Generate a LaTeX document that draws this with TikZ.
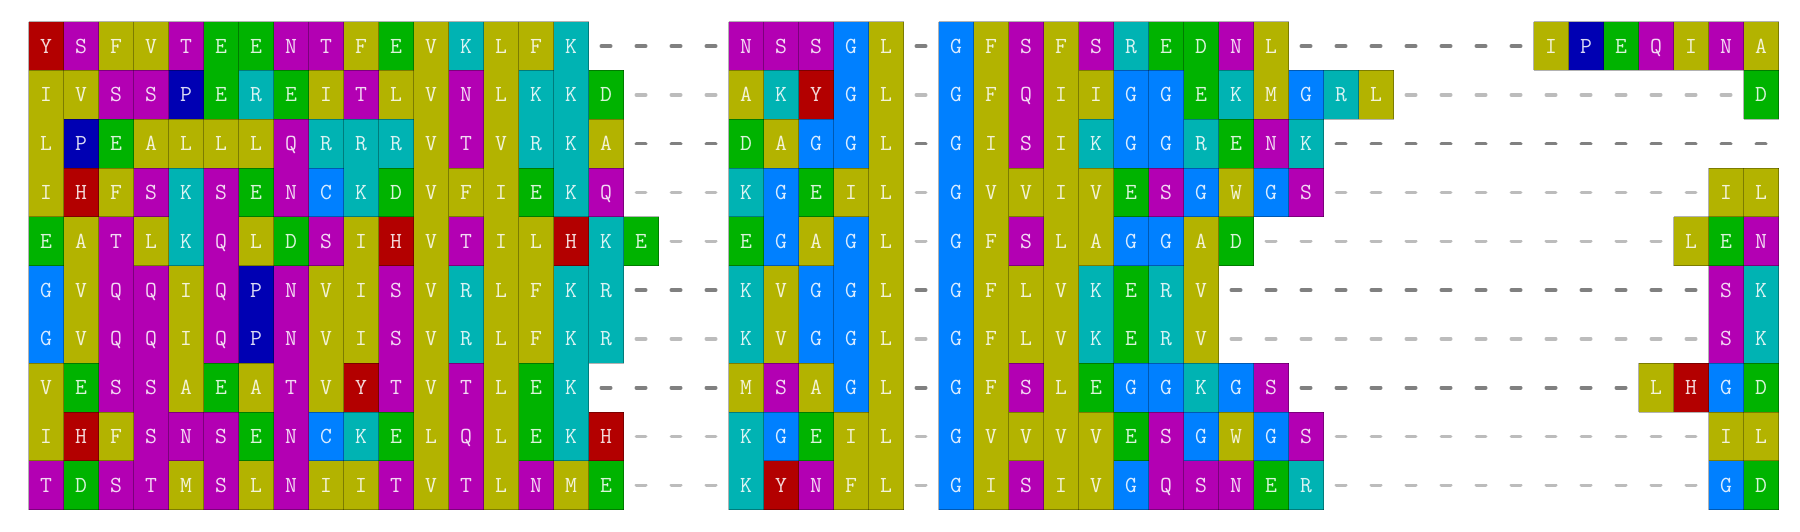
\documentclass[tikz,border=0pt]{standalone}
\usepackage{fontspec}
\definecolor{cOl}{RGB}{179,179,0}
\definecolor{cMa}{RGB}{179,0,179}
\definecolor{cGr}{RGB}{0,179,0}
\definecolor{cCy}{RGB}{0,179,179}
\definecolor{cRe}{RGB}{179,0,0}
\definecolor{cDb}{RGB}{0,0,179}
\definecolor{cLb}{RGB}{0,128,255}
\definecolor{gapD}{RGB}{128,128,128}
\definecolor{gapL}{RGB}{188,188,188}
\tikzset{
  res/.style={font=\ttfamily\fontsize{23}{23}\selectfont, text=white, text opacity=0.85, inner sep=0pt, anchor=base},
  cellline/.style={draw=black, draw opacity=0.3, line width=1pt},
  gapdark/.style={draw=gapD, line width=3.6pt, line cap=round},
  gaplight/.style={draw=gapL, line width=3.6pt, line cap=round},
}
\def\setcls#1#2{\expandafter\def\csname cls#1\endcsname{#2}}
\setcls A{cOl}\setcls V{cOl}\setcls F{cOl}\setcls I{cOl}\setcls L{cOl}\setcls M{cOl}\setcls W{cOl}
\setcls S{cMa}\setcls T{cMa}\setcls N{cMa}\setcls Q{cMa}
\setcls E{cGr}\setcls D{cGr}
\setcls K{cCy}\setcls R{cCy}
\setcls Y{cRe}\setcls H{cRe}
\setcls P{cDb}
\setcls G{cLb}\setcls C{cLb}
\def\gapcls{gap}
\newcount\rr \newcount\cc
\newif\iflinepass
\def\dorow#1#2{\global\rr=#1\relax\global\cc=0\relax\gdef\prevcls{gap}\readres#2\relax}
\def\readres#1{\ifx#1\relax\rowend\else\placeres{#1}\global\advance\cc by 1\relax\expandafter\readres\fi}
\def\rowend{%
  \iflinepass
    \ifx\prevcls\gapcls\else
      \pgfmathsetmacro\yy{21.7+48.8*\the\rr}%
      \draw[cellline] (1778.5,\yy) -- ++(0,48.8);
    \fi
  \fi}
\def\placeres#1{%
  \pgfmathsetmacro\xx{28.5+35*\the\cc}%
  \pgfmathsetmacro\yy{21.7+48.8*\the\rr}%
  \if#1-\def\curcls{gap}\else\edef\curcls{\csname cls#1\endcsname}\fi
  \iflinepass
    \edef\abovecls{\csname above\the\cc\endcsname}%
    \ifx\curcls\abovecls\else
      \draw[cellline] (\xx,\yy) -- ++(35,0);
    \fi
    \ifx\curcls\gapcls
      \ifx\prevcls\gapcls\else
        \draw[cellline] (\xx,\yy) -- ++(0,48.8);
      \fi
    \else
      \draw[cellline] (\xx,\yy) -- ++(0,48.8);
      \ifnum\rr=9
        \draw[cellline] (\xx,\yy+48.8) -- ++(35,0);
      \fi
    \fi
    \expandafter\xdef\csname above\the\cc\endcsname{\curcls}%
    \xdef\prevcls{\curcls}%
  \else
    \ifx\curcls\gapcls
      \ifcase\rr \def\gst{gapdark}\or\def\gst{gaplight}\or\def\gst{gapdark}\or\def\gst{gaplight}\or\def\gst{gaplight}\or\def\gst{gapdark}\or\def\gst{gaplight}\or\def\gst{gapdark}\or\def\gst{gaplight}\or\def\gst{gaplight}\fi
      \edef\cname{g\the\rr c\the\cc}%
      \coordinate (\cname) at (\xx+17.5,\yy+24.4);
      \draw[\gst] ([xshift=-4.7pt]\cname) -- ([xshift=4.7pt]\cname);
    \else
      \fill[\curcls] (\xx,\yy) rectangle ++(35,48.8);
      \edef\nname{n\the\rr c\the\cc}%
      \node[res] (\nname) at (\xx+17.5,\yy+31.4) {#1};
    \fi
  \fi}
\def\allrows{%
  \dorow{0}{YSFVTEENTFEVKLFK----NSSGL-GFSFSREDNL-------IPEQINA}%
  \dorow{1}{IVSSPEREITLVNLKKD---AKYGL-GFQIIGGEKMGRL----------D}%
  \dorow{2}{LPEALLLQRRRVTVRKA---DAGGL-GISIKGGRENK-------------}%
  \dorow{3}{IHFSKSENCKDVFIEKQ---KGEIL-GVVIVESGWGS-----------IL}%
  \dorow{4}{EATLKQLDSIHVTILHKE--EGAGL-GFSLAGGAD------------LEN}%
  \dorow{5}{GVQQIQPNVISVRLFKR---KVGGL-GFLVKERV--------------SK}%
  \dorow{6}{GVQQIQPNVISVRLFKR---KVGGL-GFLVKERV--------------SK}%
  \dorow{7}{VESSAEATVYTVTLEK----MSAGL-GFSLEGGKGS----------LHGD}%
  \dorow{8}{IHFSNSENCKELQLEKH---KGEIL-GVVVVESGWGS-----------IL}%
  \dorow{9}{TDSTMSLNIITVTLNME---KYNFL-GISIVGQSNER-----------GD}%
}
\begin{document}
\begin{tikzpicture}[x=1pt,y=-1pt]
\useasboundingbox (0,0) rectangle (1800,532);
\linepassfalse
\allrows
\foreach \k in {0,...,49}{\expandafter\xdef\csname above\k\endcsname{gap}}
\linepasstrue
\allrows
\end{tikzpicture}
\end{document}
